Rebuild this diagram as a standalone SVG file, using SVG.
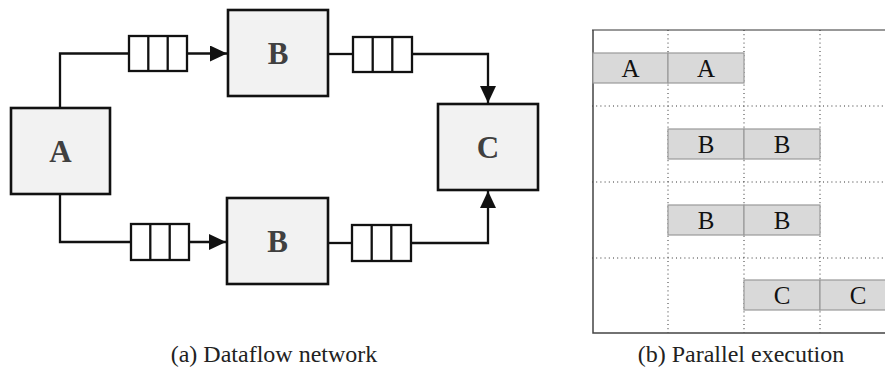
<svg xmlns="http://www.w3.org/2000/svg" width="885" height="372" viewBox="0 0 885 372">
<style>
.node{fill:#f2f2f2;stroke:#111;stroke-width:2.6}
.nlab{font-family:"Liberation Serif",serif;font-weight:bold;font-size:31px;fill:#404040;text-anchor:middle}
.q{fill:#fff;stroke:#111;stroke-width:2.3}
.conn{fill:none;stroke:#111;stroke-width:2.3}
.grid{stroke:#333;stroke-width:1;stroke-dasharray:1 3.2;fill:none}
.axis{stroke:#444;stroke-width:1.5;fill:none}
.bar{fill:#d9d9d9;stroke:#999;stroke-width:1.2}
.blab{font-family:"Liberation Serif",serif;font-size:25px;fill:#111;text-anchor:middle}
.cap{font-family:"Liberation Serif",serif;font-size:24px;fill:#222;text-anchor:middle}
</style>
<defs>
<marker id="arr" markerUnits="userSpaceOnUse" markerWidth="18" markerHeight="16" refX="17" refY="8" orient="auto">
<path d="M0,0 L17,8 L0,16 Z" fill="#111"/>
</marker>
</defs>
<rect width="885" height="372" fill="#fff"/>

<g id="connectors">
<path class="conn" d="M60,108 V53.5 H129"/>
<path class="conn" d="M187,53.5 H227" marker-end="url(#arr)"/>
<path class="conn" d="M328,54 H353"/>
<path class="conn" d="M412,54 H488 V103" marker-end="url(#arr)"/>
<path class="conn" d="M60,194 V242 H131"/>
<path class="conn" d="M189,242 H226" marker-end="url(#arr)"/>
<path class="conn" d="M328,243 H352"/>
<path class="conn" d="M411,243 H488 V191" marker-end="url(#arr)"/>
</g>

<g id="queue1">
<rect class="q" x="129" y="36" width="58" height="35"/>
<line class="q" x1="148.3" y1="36" x2="148.3" y2="71"/>
<line class="q" x1="167.7" y1="36" x2="167.7" y2="71"/>
</g>
<g id="queue2">
<rect class="q" x="353" y="37" width="59" height="35"/>
<line class="q" x1="372.7" y1="37" x2="372.7" y2="72"/>
<line class="q" x1="392.3" y1="37" x2="392.3" y2="72"/>
</g>
<g id="queue3">
<rect class="q" x="131" y="224" width="58" height="36"/>
<line class="q" x1="150.3" y1="224" x2="150.3" y2="260"/>
<line class="q" x1="169.7" y1="224" x2="169.7" y2="260"/>
</g>
<g id="queue4">
<rect class="q" x="352" y="225" width="59" height="36"/>
<line class="q" x1="371.7" y1="225" x2="371.7" y2="261"/>
<line class="q" x1="391.3" y1="225" x2="391.3" y2="261"/>
</g>

<g id="nodeA">
<rect class="node" x="11" y="108" width="99" height="86"/>
<text class="nlab" x="60.5" y="162">A</text>
</g>
<g id="nodeB1">
<rect class="node" x="228" y="10" width="100" height="86"/>
<text class="nlab" x="278" y="64">B</text>
</g>
<g id="nodeB2">
<rect class="node" x="227" y="198" width="101" height="86"/>
<text class="nlab" x="277.5" y="252">B</text>
</g>
<g id="nodeC">
<rect class="node" x="438" y="104" width="100" height="86"/>
<text class="nlab" x="488" y="158">C</text>
</g>

<text class="cap" x="274" y="362">(a) Dataflow network</text>

<g id="chart">
<path class="grid" d="M592,106 H885 M592,182 H885 M592,258 H885"/>
<path class="grid" d="M668,30 V333 M744,30 V333 M820,30 V333"/>
<line x1="592" y1="30" x2="885" y2="30" stroke="#333" stroke-width="1"/>
<path class="axis" d="M593,30 V333 H885"/>
<g id="barA1"><rect class="bar" x="593" y="53" width="75" height="30"/><text class="blab" x="630.5" y="76.5">A</text></g>
<g id="barA2"><rect class="bar" x="668" y="53" width="76" height="30"/><text class="blab" x="706" y="76.5">A</text></g>
<g id="barB1"><rect class="bar" x="668" y="129" width="76" height="30"/><text class="blab" x="706" y="152.5">B</text></g>
<g id="barB2"><rect class="bar" x="744" y="129" width="76" height="30"/><text class="blab" x="782" y="152.5">B</text></g>
<g id="barB3"><rect class="bar" x="668" y="205" width="76" height="30"/><text class="blab" x="706" y="228.5">B</text></g>
<g id="barB4"><rect class="bar" x="744" y="205" width="76" height="30"/><text class="blab" x="782" y="228.5">B</text></g>
<g id="barC1"><rect class="bar" x="744" y="280" width="76" height="30"/><text class="blab" x="782" y="303.5">C</text></g>
<g id="barC2"><rect class="bar" x="820" y="280" width="76" height="30"/><text class="blab" x="858" y="303.5">C</text></g>
</g>

<text class="cap" x="741" y="362">(b) Parallel execution</text>
</svg>
